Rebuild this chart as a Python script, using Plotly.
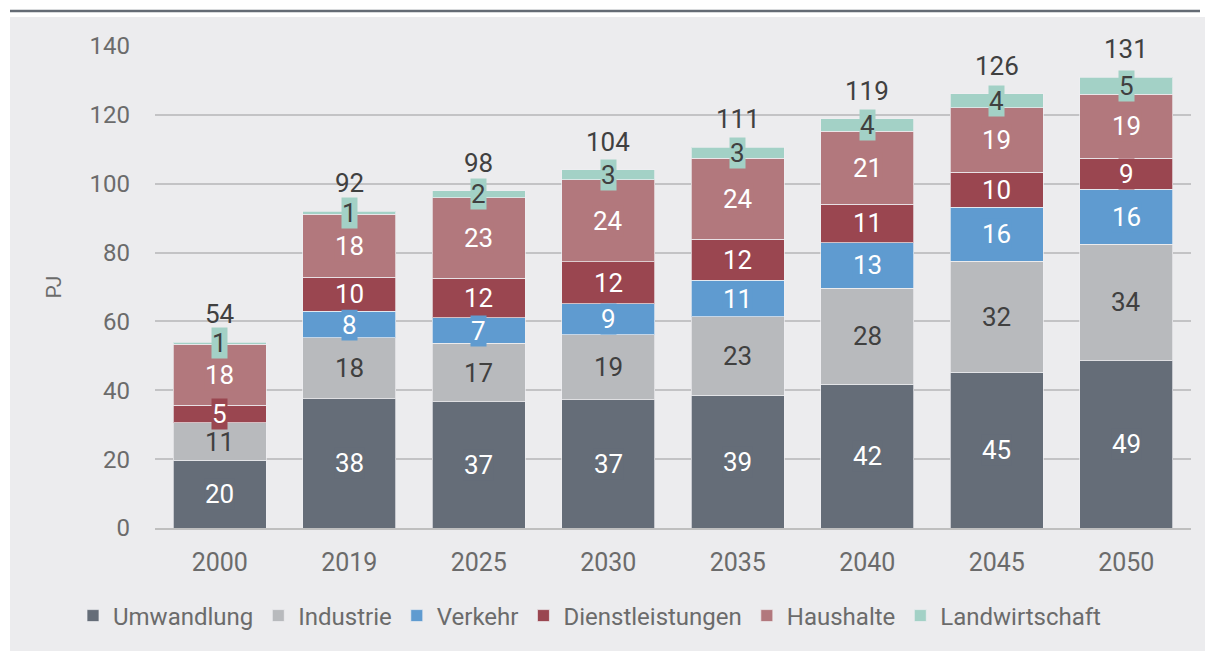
import plotly.graph_objects as go

# Endenergie nach Sektoren, PJ
years = ["2000", "2019", "2025", "2030", "2035", "2040", "2045", "2050"]
umwandlung = [19.7, 37.6, 36.6, 37.2, 38.6, 41.8, 45.3, 48.6]
industrie = [10.8, 17.6, 17.1, 18.9, 22.7, 27.9, 32.2, 33.8]
verkehr = [0.0, 7.7, 7.3, 9.0, 10.6, 13.1, 15.7, 16.0]
dienstleistungen = [5.2, 9.9, 11.6, 12.2, 11.9, 11.3, 10.2, 9.0]
haushalte = [17.7, 18.3, 23.3, 23.8, 23.6, 21.2, 18.6, 18.6]
landwirtschaft = [0.6, 0.9, 2.0, 2.9, 3.2, 3.5, 4.1, 4.9]

series = [
    ("Umwandlung", umwandlung, "#656d78", "white"),
    ("Industrie", industrie, "#b8babd", "#404040"),
    ("Verkehr", verkehr, "#5f9bd0", "white"),
    ("Dienstleistungen", dienstleistungen, "#9a4650", "white"),
    ("Haushalte", haushalte, "#b2787d", "white"),
    ("Landwirtschaft", landwirtschaft, "#a3d1c6", "#404040"),
]

FONT = "Roboto, sans-serif"
BG = "#ececee"
TICK = "#6b6b6b"

fig = go.Figure()
annotations = []
base = [0.0] * len(years)
for name, vals, color, txt in series:
    fig.add_trace(go.Bar(
        name=name, x=years, y=vals, marker_color=color,
        marker_line=dict(color="rgba(240,240,242,0.7)", width=1),
    ))
    # Datenbeschriftung mittig im Segment (x = Kategorienindex)
    for i, v in enumerate(vals):
        if v > 0.5:
            annotations.append(dict(
                x=i, y=base[i] + v / 2, xref="x", yref="y",
                text=f"{v:.0f}", showarrow=False, bgcolor=color,
                borderpad=0, font=dict(family=FONT, size=26, color=txt),
            ))
        base[i] += v

# Summen über den Säulen
for i, total in enumerate(base):
    annotations.append(dict(
        x=i, y=total, xref="x", yref="y", yanchor="bottom",
        text=f"{total:.0f}", showarrow=False, yshift=11,
        font=dict(family=FONT, size=26, color="#404040"),
    ))

# Seitenrahmen: weißer Rand oben/links mit Trennlinie
L, R, T, B = 155, 14, 46, 123
W, H = 1205, 651
pw, ph = W - L - R, H - T - B


def px_x(p):
    return (p - L) / pw


def px_y(p):
    return (H - B - p) / ph


shapes = [
    dict(type="rect", xref="paper", yref="paper", x0=px_x(0), x1=px_x(W),
         y0=px_y(17), y1=px_y(0), fillcolor="white", line_width=0, layer="above"),
    dict(type="rect", xref="paper", yref="paper", x0=px_x(0), x1=px_x(10),
         y0=px_y(H), y1=px_y(0), fillcolor="white", line_width=0, layer="above"),
    dict(type="line", xref="paper", yref="paper", x0=px_x(10), x1=px_x(1200),
         y0=px_y(11), y1=px_y(11), line=dict(color="#646b74", width=2.5), layer="above"),
]

fig.update_layout(
    barmode="stack", bargap=0.28,
    width=W, height=H,
    margin=dict(l=L, r=R, t=T, b=B),
    paper_bgcolor=BG, plot_bgcolor=BG,
    font=dict(family=FONT, color=TICK),
    showlegend=True,
    legend=dict(orientation="h", x=px_x(590), xanchor="center", y=px_y(616), yanchor="middle",
                font=dict(family=FONT, size=24, color=TICK),
                tracegroupgap=0, traceorder="normal", bgcolor="rgba(0,0,0,0)"),
    annotations=annotations,
    shapes=shapes,
    xaxis=dict(type="category", range=[-0.5, 7.5], showgrid=False, showline=True,
               linecolor="#bfbfbf", linewidth=1.5, ticks="",
               tickfont=dict(size=25, color=TICK), ticklabelstandoff=11),
    yaxis=dict(range=[0, 140], dtick=20, showgrid=True, gridcolor="#c3c3c5", gridwidth=1.5,
               zeroline=False, ticks="", tickfont=dict(size=24, color=TICK),
               ticklabelstandoff=24,
               title=dict(text="PJ", font=dict(size=21, color=TICK), standoff=22)),
)

fig.write_html("out.html")
